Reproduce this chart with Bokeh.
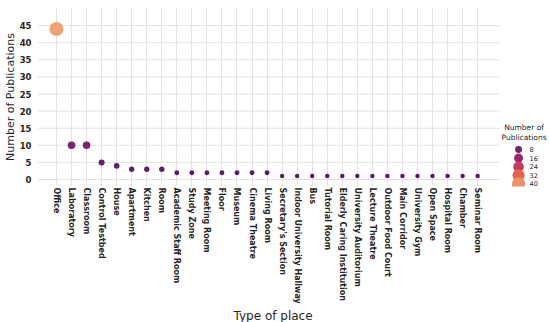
import math
from bokeh.plotting import figure
from bokeh.models import Range1d, FixedTicker, ColumnDataSource, Title
from bokeh.embed import file_html
from bokeh.resources import INLINE
from bokeh.core.properties import value

# ---------------- data ----------------
places = ["Office", "Laboratory", "Classroom", "Control Testbed", "House",
          "Apartment", "Kitchen", "Room", "Academic Staff Room", "Study Zone",
          "Meeting Room", "Floor", "Museum", "Cinema Theatre", "Living Room",
          "Secretary's Section", "Indoor University Hallway", "Bus",
          "Tutorial Room", "Elderly Caring Institution", "University Auditorium",
          "Lecture Theatre", "Outdoor Food Court", "Main Corridor",
          "University Gym", "Open Space", "Hospital Room", "Chamber",
          "Seminar Room"]
counts = [44, 10, 10, 5, 4, 3, 3, 3, 2, 2, 2, 2, 2, 2, 2,
          1, 1, 1, 1, 1, 1, 1, 1, 1, 1, 1, 1, 1, 1]
y_ticks = [0, 5, 10, 15, 20, 25, 30, 35, 40, 45]
legend_values = [8, 16, 24, 32, 40]
legend_title = ["Number of", "Publications"]
x_title = "Type of place"
y_title = "Number of Publications"

# ---------------- styles ----------------
FONT = "DejaVu Sans"
TXT = "#262626"
GRID = "#e2e2e2"
stops = [(0.00, (0x56, 0x1e, 0x66)),
         (0.16, (0x6e, 0x25, 0x70)),
         (0.35, (0x95, 0x29, 0x6f)),
         (0.53, (0xc3, 0x3b, 0x5f)),
         (0.72, (0xe3, 0x63, 0x4f)),
         (0.91, (0xeb, 0x94, 0x68)),
         (1.00, (0xef, 0xa2, 0x73))]
vmin, vmax = min(counts), max(counts)
dmin, dmax = 4.5, 14.0


def color_for(v):
    t = max(0.0, min(1.0, (v - vmin) / (vmax - vmin)))
    for (t0, c0), (t1, c1) in zip(stops[:-1], stops[1:]):
        if t0 <= t <= t1:
            f = (t - t0) / (t1 - t0)
            c = [round(a + (b - a) * f) for a, b in zip(c0, c1)]
            return "#%02x%02x%02x" % tuple(c)
    return "#%02x%02x%02x" % stops[-1][1]


def size_for(v):
    t = max(0.0, (v - vmin) / (vmax - vmin))
    return math.sqrt(dmin ** 2 + t * (dmax ** 2 - dmin ** 2))


W, H = 550, 322

# layout geometry (canvas pixels)
PX_PER_CAT = 15.07
LAST_PX = 477.0
FRAME_LEFT_PX, FRAME_RIGHT_PX = 36.0, float(W)
GRID_RIGHT_PX = 499.0
PX_PER_UNIT = 3.42
ZERO_PX = 179.0
FRAME_TOP_PX, FRAME_BOT_PX = 7.0, 186.0
n = len(places)


def px_to_x(px):
    return (px - LAST_PX) / PX_PER_CAT + (n - 1)


def py_to_y(py):
    return (ZERO_PX - py) / PX_PER_UNIT


xs = list(range(n))
src = ColumnDataSource(dict(x=xs, count=counts,
                            size=[size_for(v) for v in counts],
                            color=[color_for(v) for v in counts]))

p = figure(x_range=Range1d(px_to_x(FRAME_LEFT_PX), px_to_x(FRAME_RIGHT_PX)),
           y_range=Range1d(py_to_y(FRAME_BOT_PX), py_to_y(FRAME_TOP_PX)),
           width=W, height=H, output_backend="svg", toolbar_location=None,
           min_border_left=int(FRAME_LEFT_PX), min_border_right=0,
           min_border_top=int(FRAME_TOP_PX),
           min_border_bottom=int(H - FRAME_BOT_PX))
p.outline_line_color = None
p.background_fill_color = "white"

# grids: vertical lines via xgrid, horizontal lines drawn up to grid end
p.xgrid.ticker = FixedTicker(ticks=xs)
p.xgrid.grid_line_color = GRID
p.ygrid.grid_line_color = None
gx0, gx1 = px_to_x(FRAME_LEFT_PX), px_to_x(GRID_RIGHT_PX)
p.segment(x0=[gx0] * len(y_ticks), x1=[gx1] * len(y_ticks),
          y0=y_ticks, y1=y_ticks, line_color=GRID, line_width=1,
          level="underlay")

p.scatter(x="x", y="count", size="size", fill_color="color",
          line_color=None, source=src)

# axes
for ax in (p.xaxis, p.yaxis):
    ax.axis_line_color = None
    ax.major_tick_line_color = None
    ax.minor_tick_line_color = None
    ax.major_tick_out = 0
    ax.major_tick_in = 0
    ax.major_label_text_font = FONT
    ax.major_label_text_font_style = "bold"
    ax.major_label_text_color = TXT
    ax.axis_label_text_font = FONT
    ax.axis_label_text_font_style = "normal"
    ax.axis_label_text_color = TXT

p.yaxis.ticker = FixedTicker(ticks=y_ticks)
p.yaxis.major_label_text_font_size = "8.5px"
p.yaxis.major_label_standoff = 6
p.yaxis.axis_label = y_title
p.yaxis.axis_label_text_font_size = "11px"
p.yaxis.axis_label_standoff = 0

p.xaxis.ticker = FixedTicker(ticks=xs)
p.xaxis.major_label_overrides = {i: name for i, name in enumerate(places)}
p.xaxis.major_label_orientation = "vertical"
p.xaxis.major_label_text_font_size = "8px"
p.xaxis.major_label_standoff = 1

# x-axis title as a title panel below the axis
p.add_layout(Title(text=x_title, align="left", offset=196, standoff=0,
                   text_font=FONT, text_font_size="12px",
                   text_font_style="normal", text_color=TXT), "below")

# ---------------- legend (inside the frame, right side) ----------------
ly_px = [149 + i * 8.6 for i in range(len(legend_values))]
p.scatter(x=[px_to_x(518)] * len(legend_values), y=[py_to_y(v) for v in ly_px],
          size=[size_for(v) for v in legend_values],
          fill_color=[color_for(v) for v in legend_values], line_color=None)
p.text(x=[px_to_x(529)] * len(legend_values), y=[py_to_y(v) for v in ly_px],
       text=[str(v) for v in legend_values],
       text_font=value(FONT), text_font_size="6.5px",
       text_baseline="middle", text_align="left", text_color=TXT)
p.text(x=[px_to_x(523.5)] * len(legend_title),
       y=[py_to_y(127 + 10 * i) for i in range(len(legend_title))],
       text=legend_title, text_font=value(FONT), text_font_size="7.5px",
       text_baseline="middle", text_align="center", text_color=TXT)

open("out.html", "w").write(file_html(p, INLINE))
